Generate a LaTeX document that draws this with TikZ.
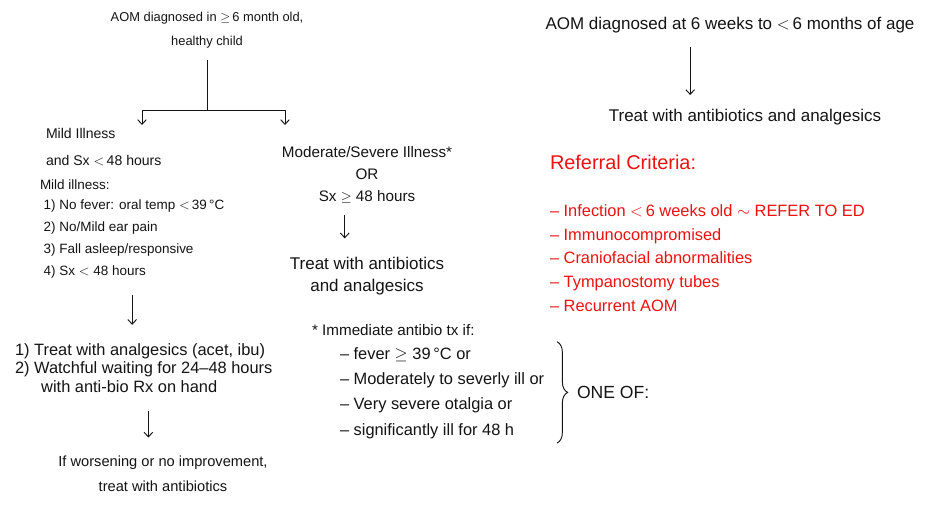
\documentclass[tikz,border=0pt]{standalone}
\usepackage{fontspec}
\setmainfont{Liberation Sans}
\usetikzlibrary{arrows.meta,positioning,decorations.pathreplacing}
\definecolor{ink}{HTML}{141414}
\definecolor{redpen}{HTML}{EE1111}
\tikzset{txt/.style={font=\fontsize{13}{18}\selectfont,text=ink,inner sep=0pt,outer sep=0pt},
  lft/.style={txt,anchor=west,align=left},
  crit/.style={lft,text=redpen},
  pen/.style={draw=ink,line width=0.8pt},
  flow/.style={pen,-{Straight Barb[length=1.4mm,width=2.6mm]}}}
\begin{document}
\begin{tikzpicture}[x=0.03cm,y=-0.03cm]
\useasboundingbox[fill=white] (0,0) rectangle (949,526);
% left tree
\node[txt,align=center,font=\fontsize{11}{21}\selectfont] (aom6) at (207,30) {AOM diagnosed in $\geq$\,6 month old,\\healthy child};
\coordinate (fork) at (207,110);
\coordinate (toMild) at (142,125);
\coordinate (toMod) at (285,125);
\draw[pen,shorten <=10pt] (aom6) -- (fork);
\draw[flow] (fork) -| (toMild);
\draw[flow] (fork) -| (toMod);
\node[lft,font=\fontsize{12}{23}\selectfont] (mild) at (46,147) {Mild Illness\\and Sx $<$\,48 hours};
\node[lft,font=\fontsize{11.5}{18.7}\selectfont] (mildlist) at (40,229) {Mild illness:\\[-1pt]
  \ 1) No fever: oral temp $<$\,39\,°C\\
  \ 2) No/Mild ear pain\\
  \ 3) Fall asleep/responsive\\
  \ 4) Sx $<$ 48 hours};
\node[lft,font=\fontsize{14}{15.7}\selectfont] (watch) at (15,368) {1) Treat with analgesics (acet, ibu)\\
  2) Watchful waiting for 24--48 hours\\
  \hspace*{1.6em}with anti-bio Rx on hand};
\node[txt,align=center,font=\fontsize{12.5}{21}\selectfont] (worse) at (163,474) {If worsening or no improvement,\\treat with antibiotics};
\draw[flow,shorten <=14pt,shorten >=16pt] (mildlist.south) -- (mildlist.south |- watch.north);
\draw[flow,shorten <=16pt,shorten >=16pt] ([xshift=4pt]watch.south) -- ([xshift=4pt]watch.south |- worse.north);
% moderate branch
\node[txt,align=center,font=\fontsize{13}{18.7}\selectfont] (mod) at (367,175) {Moderate/Severe Illness*\\OR\\Sx $\geq$ 48 hours};
\node[txt,align=center,font=\fontsize{14.5}{18.7}\selectfont] (treatab) at (367,276) {Treat with antibiotics\\and analgesics};
\draw[flow,shorten <=10pt,shorten >=16pt] ([xshift=-19pt]mod.south) -- ([xshift=-19pt]mod.south |- treatab.north);
\node[lft] (immed) at (312,330) {* Immediate antibio tx if:};
\node[lft,font=\fontsize{14}{21.5}\selectfont] (severe) at (340,393) {-- fever $\geq$ 39\,°C or\\
  -- Moderately to severly ill or\\
  -- Very severe otalgia or\\
  -- significantly ill for 48 h};
\draw[pen,decorate,decoration={brace,amplitude=9pt}] ([xshift=11pt,yshift=5pt]severe.north east) -- ([xshift=11pt,yshift=-4pt]severe.south east) node[midway,right=17pt,txt,font=\fontsize{15}{18}\selectfont] (oneof) {ONE OF:};
% right side
\node[txt,font=\fontsize{14.5}{18}\selectfont] (aomwk) at (730,25) {AOM diagnosed at 6 weeks to $<$\,6 months of age};
\node[txt,font=\fontsize{14.5}{18}\selectfont] (treatr) at (745,117) {Treat with antibiotics and analgesics};
\draw[flow,shorten <=12pt,shorten >=12pt] ([xshift=-34pt]aomwk.south) -- ([xshift=-34pt]aomwk.south |- treatr.north);
\node[crit,font=\fontsize{17}{20}\selectfont] (refhead) at (550,162) {Referral Criteria:};
\node[crit,font=\fontsize{14}{20.2}\selectfont] (reflist) at (550,258) {-- Infection $<$\,6 weeks old $\sim$ REFER TO ED\\
  -- Immunocompromised\\
  -- Craniofacial abnormalities\\
  -- Tympanostomy tubes\\
  -- Recurrent AOM};
\end{tikzpicture}
\end{document}
